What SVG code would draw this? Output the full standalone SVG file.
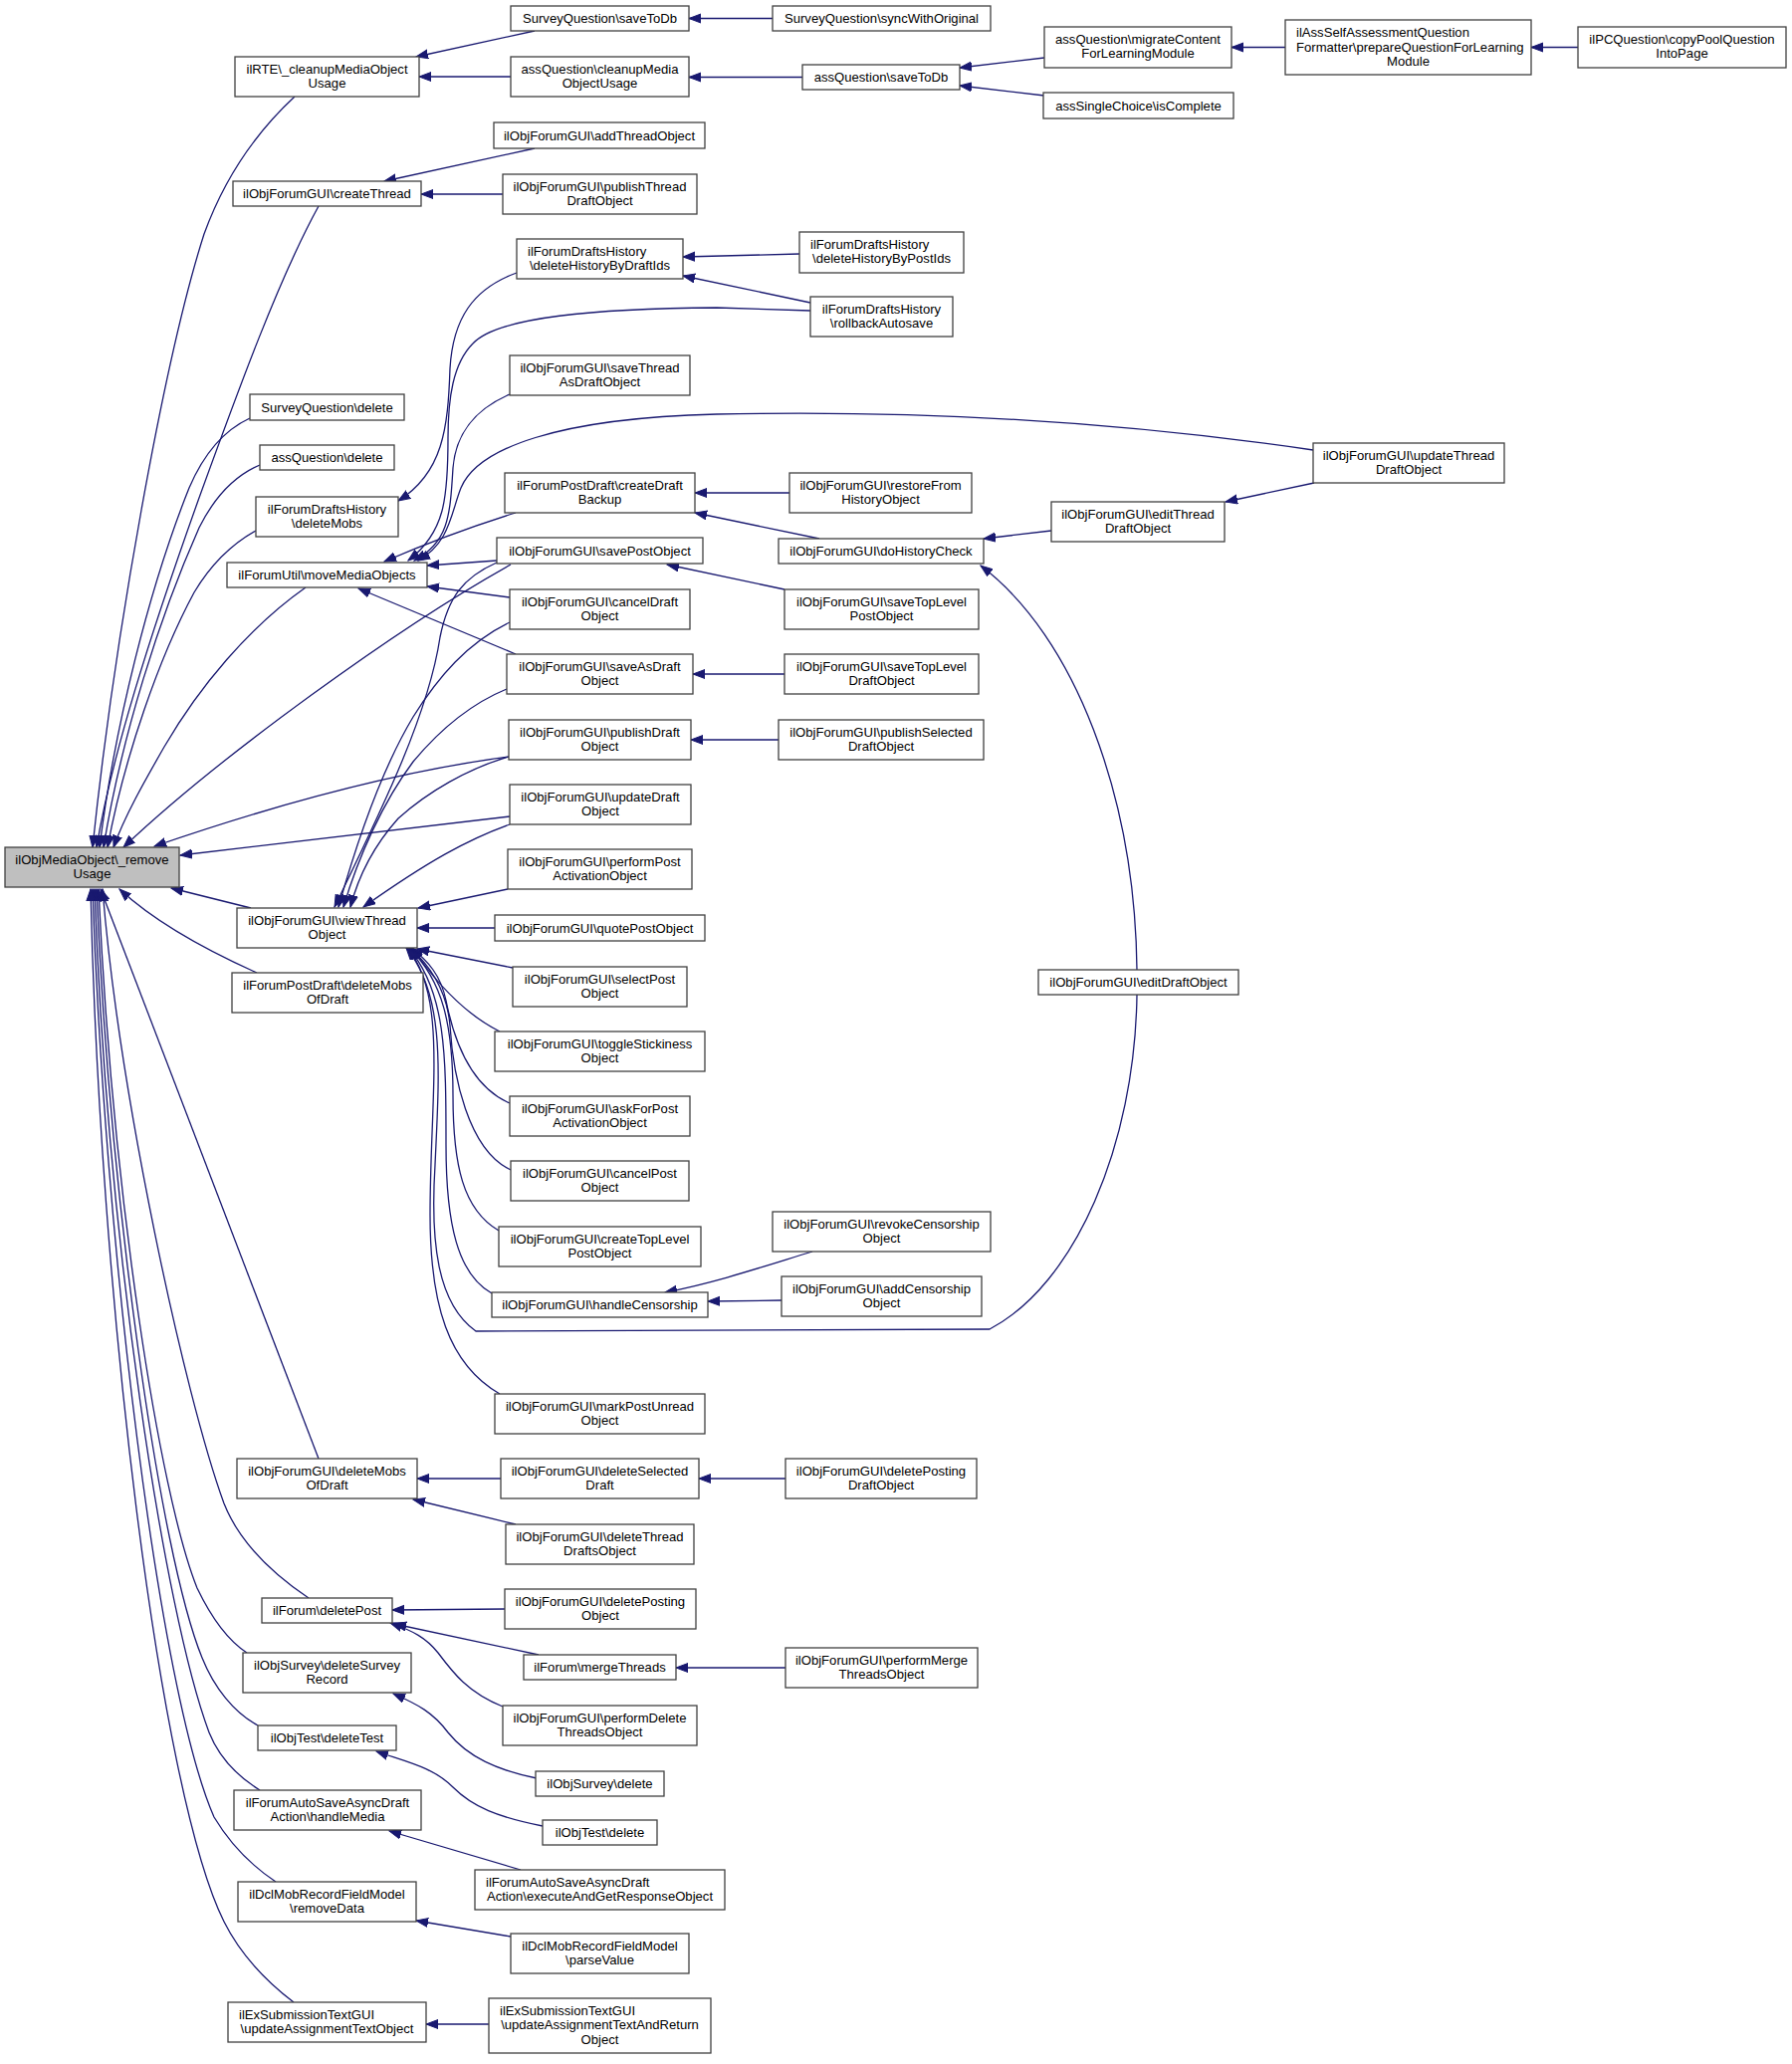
<svg xmlns="http://www.w3.org/2000/svg" width="1800" height="2073" viewBox="0 0 1800 2073">
<style>
.n rect{fill:#ffffff;stroke:#404040;stroke-width:1.3}
.m rect{fill:#bfbfbf;stroke:#404040;stroke-width:1.3}
text{font-family:"Liberation Sans",Arial,Helvetica,sans-serif;font-size:13.1px;fill:#000;text-anchor:middle}
text.l{text-anchor:start}
.e path{fill:none;stroke:#191970;stroke-width:1.3;marker-end:url(#ah)}
</style>
<defs>
<marker id="ah" markerUnits="userSpaceOnUse" markerWidth="14" markerHeight="12" refX="12" refY="5" orient="auto">
<path d="M0,0.5 L12,5 L0,9.5 z" fill="#191970" stroke="#191970" stroke-width="1"/>
</marker>
</defs>
<rect x="0" y="0" width="1800" height="2073" fill="#ffffff"/>
<g id="edges" class="e">
<path d="M296,97 C255,135 225,180 205,235 C165,360 115,640 93,851"/>
<path d="M320,207 C280,280 240,390 200,500 C150,640 112,760 97,851"/>
<path d="M251,420 C225,432 205,455 190,490 C150,590 115,730 100,851"/>
<path d="M261,467 C235,478 215,500 200,530 C160,620 122,740 104,851"/>
<path d="M257,533 C230,548 210,570 195,595 C160,660 125,760 108,851"/>
<path d="M307,590 C250,630 200,690 165,750 C145,785 125,820 114,851"/>
<path d="M513,567 C400,630 220,760 124,851"/>
<path d="M511,760 C420,772 300,800 155,850"/>
<path d="M512,820 L181,859"/>
<path d="M252,912 L172,892"/>
<path d="M258,977 C220,960 160,930 120,893"/>
<path d="M320,1465 L101,893"/>
<path d="M310,1605 C270,1578 240,1548 225,1510 C185,1400 120,1100 103,893"/>
<path d="M248,1660 C225,1645 210,1620 198,1595 C160,1500 113,1200 99,893"/>
<path d="M259,1733 C235,1720 215,1695 203,1665 C160,1560 110,1200 97,893"/>
<path d="M261,1798 C240,1785 220,1765 210,1740 C165,1620 108,1250 95,893"/>
<path d="M277,1890 C250,1872 230,1850 215,1825 C160,1700 105,1250 93,893"/>
<path d="M295,2011 C265,1988 240,1960 225,1930 C160,1800 100,1300 91,893"/>
<path d="M537,31 L418,57"/>
<path d="M513,77 L421,77"/>
<path d="M776,18.5 L692,18.5"/>
<path d="M806,77.5 L692,77.5"/>
<path d="M1049,58 L964,68"/>
<path d="M1049,96 L964,86"/>
<path d="M1291,47.5 L1237,47.5"/>
<path d="M1585,47.5 L1538,47.5"/>
<path d="M537,149 L386,182"/>
<path d="M505,195 L423,195"/>
<path d="M803,255 L686,258"/>
<path d="M814,304 L686,277"/>
<path d="M519,274 C475,290 455,320 452,370 C450,430 445,475 400,503"/>
<path d="M814,312 L720,309 C600,310 500,318 475,345 C455,365 450,400 450,440 C450,500 447,535 410,563"/>
<path d="M512,396 C480,410 458,432 455,470 C452,520 450,545 416,563"/>
<path d="M1319,452 C1100,420 900,412 720,416 C560,420 480,450 463,490 C453,515 452,545 420,563"/>
<path d="M518,515 C470,530 430,545 386,564"/>
<path d="M499,563 L429,568"/>
<path d="M512,600 L429,589"/>
<path d="M518,657 L360,591"/>
<path d="M793,495 L698,495"/>
<path d="M823,541 L698,515"/>
<path d="M1056,533 L988,541"/>
<path d="M1320,485 L1231,504"/>
<path d="M1142,974 C1140,800 1080,640 985,568"/>
<path d="M788,592 L670,567"/>
<path d="M788,677 L696,677"/>
<path d="M782,743 L694,743"/>
<path d="M499,565 C465,580 450,600 442,640 C430,720 380,820 336,911"/>
<path d="M512,625 C470,645 440,680 415,720 C385,770 360,840 340,911"/>
<path d="M509,692 C470,708 440,735 415,765 C385,805 360,860 345,911"/>
<path d="M511,760 C470,772 430,795 400,822 C375,850 360,880 352,911"/>
<path d="M512,828 C470,843 430,865 365,911"/>
<path d="M510,893 L420,912"/>
<path d="M497,932 L419,932"/>
<path d="M515,972 L419,953"/>
<path d="M502,1036 C470,1020 440,990 414,952"/>
<path d="M512,1108 C470,1090 455,1040 448,1005 C443,980 430,965 413,952"/>
<path d="M513,1175 C470,1155 455,1080 452,1030 C449,995 432,970 412,952"/>
<path d="M501,1236 C465,1215 455,1170 455,1100 C455,1030 445,985 411,952"/>
<path d="M494,1299 C460,1280 448,1230 448,1150 C448,1060 448,995 410,952"/>
<path d="M502,1400 C450,1370 432,1310 432,1220 C432,1100 450,1000 409,952"/>
<path d="M1142,999 C1140,1150 1080,1290 994,1335 L478,1337 C440,1310 432,1250 437,1170 C441,1080 448,1000 408,952"/>
<path d="M816,1257 C770,1271 720,1288 668,1298"/>
<path d="M785,1306 L711,1307"/>
<path d="M503,1485 L419,1485"/>
<path d="M518,1531 L415,1506"/>
<path d="M789,1485 L702,1485"/>
<path d="M507,1616 L394,1617"/>
<path d="M541,1662 L396,1631"/>
<path d="M505,1714 C470,1700 455,1680 440,1660 C428,1645 415,1638 392,1630"/>
<path d="M789,1675 L679,1675"/>
<path d="M539,1786 C500,1778 470,1765 450,1740 C435,1720 420,1712 395,1701"/>
<path d="M545,1834 C500,1825 475,1815 455,1795 C435,1775 410,1770 378,1759"/>
<path d="M523,1878 L391,1839"/>
<path d="M513,1945 L418,1929"/>
<path d="M491,2033 L428,2033"/>
</g>
<g id="n0" class="m"><rect x="5" y="851" width="175" height="40"/><text x="92.5" y="867.5">ilObjMediaObject\_remove</text><text x="92.5" y="881.9">Usage</text></g>
<g id="b1" class="n"><rect x="236" y="57" width="185" height="40"/><text x="328.5" y="73.5">ilRTE\_cleanupMediaObject</text><text x="328.5" y="87.9">Usage</text></g>
<g id="b2" class="n"><rect x="234" y="182" width="189" height="25"/><text x="328.5" y="199.2">ilObjForumGUI\createThread</text></g>
<g id="b3" class="n"><rect x="251" y="396" width="155" height="26"/><text x="328.5" y="413.7">SurveyQuestion\delete</text></g>
<g id="b4" class="n"><rect x="261" y="447" width="135" height="25"/><text x="328.5" y="464.2">assQuestion\delete</text></g>
<g id="b5" class="n"><rect x="257" y="499" width="143" height="40"/><text x="328.5" y="515.5">ilForumDraftsHistory</text><text x="328.5" y="529.9">\deleteMobs</text></g>
<g id="b6" class="n"><rect x="228" y="565" width="201" height="25"/><text x="328.5" y="582.2">ilForumUtil\moveMediaObjects</text></g>
<g id="b7" class="n"><rect x="238" y="912" width="181" height="40"/><text x="328.5" y="928.5">ilObjForumGUI\viewThread</text><text x="328.5" y="942.9">Object</text></g>
<g id="b8" class="n"><rect x="233" y="977" width="192" height="40"/><text x="329" y="993.5">ilForumPostDraft\deleteMobs</text><text x="329" y="1007.9">OfDraft</text></g>
<g id="b9" class="n"><rect x="238" y="1465" width="181" height="40"/><text x="328.5" y="1481.5">ilObjForumGUI\deleteMobs</text><text x="328.5" y="1495.9">OfDraft</text></g>
<g id="b10" class="n"><rect x="263" y="1605" width="131" height="25"/><text x="328.5" y="1622.2">ilForum\deletePost</text></g>
<g id="b11" class="n"><rect x="244" y="1660" width="169" height="40"/><text x="328.5" y="1676.5">ilObjSurvey\deleteSurvey</text><text x="328.5" y="1690.9">Record</text></g>
<g id="b12" class="n"><rect x="259" y="1733" width="139" height="25"/><text x="328.5" y="1750.2">ilObjTest\deleteTest</text></g>
<g id="b13" class="n"><rect x="235" y="1798" width="188" height="40"/><text x="329" y="1814.5">ilForumAutoSaveAsyncDraft</text><text x="329" y="1828.9">Action\handleMedia</text></g>
<g id="b14" class="n"><rect x="239" y="1890" width="179" height="40"/><text x="328.5" y="1906.5">ilDclMobRecordFieldModel</text><text x="328.5" y="1920.9">\removeData</text></g>
<g id="b15" class="n"><rect x="229" y="2011" width="199" height="40"/><text class="l" x="240" y="2027.5">ilExSubmissionTextGUI</text><text x="328.5" y="2041.9">\updateAssignmentTextObject</text></g>
<g id="c1" class="n"><rect x="513" y="6" width="179" height="25"/><text x="602.5" y="23.2">SurveyQuestion\saveToDb</text></g>
<g id="c2" class="n"><rect x="513" y="57" width="179" height="40"/><text x="602.5" y="73.5">assQuestion\cleanupMedia</text><text x="602.5" y="87.9">ObjectUsage</text></g>
<g id="c3" class="n"><rect x="496" y="123" width="212" height="26"/><text x="602" y="140.7">ilObjForumGUI\addThreadObject</text></g>
<g id="c4" class="n"><rect x="505" y="175" width="195" height="40"/><text x="602.5" y="191.5">ilObjForumGUI\publishThread</text><text x="602.5" y="205.9">DraftObject</text></g>
<g id="c5" class="n"><rect x="519" y="240" width="167" height="40"/><text class="l" x="530" y="256.5">ilForumDraftsHistory</text><text x="602.5" y="270.9">\deleteHistoryByDraftIds</text></g>
<g id="c6" class="n"><rect x="512" y="357" width="181" height="40"/><text x="602.5" y="373.5">ilObjForumGUI\saveThread</text><text x="602.5" y="387.9">AsDraftObject</text></g>
<g id="c7" class="n"><rect x="507" y="475" width="191" height="40"/><text x="602.5" y="491.5">ilForumPostDraft\createDraft</text><text x="602.5" y="505.9">Backup</text></g>
<g id="c8" class="n"><rect x="499" y="540" width="207" height="26"/><text x="602.5" y="557.7">ilObjForumGUI\savePostObject</text></g>
<g id="c9" class="n"><rect x="512" y="592" width="181" height="40"/><text x="602.5" y="608.5">ilObjForumGUI\cancelDraft</text><text x="602.5" y="622.9">Object</text></g>
<g id="c10" class="n"><rect x="509" y="657" width="187" height="40"/><text x="602.5" y="673.5">ilObjForumGUI\saveAsDraft</text><text x="602.5" y="687.9">Object</text></g>
<g id="c11" class="n"><rect x="511" y="723" width="183" height="40"/><text x="602.5" y="739.5">ilObjForumGUI\publishDraft</text><text x="602.5" y="753.9">Object</text></g>
<g id="c12" class="n"><rect x="512" y="788" width="182" height="40"/><text x="603" y="804.5">ilObjForumGUI\updateDraft</text><text x="603" y="818.9">Object</text></g>
<g id="c13" class="n"><rect x="510" y="853" width="185" height="40"/><text x="602.5" y="869.5">ilObjForumGUI\performPost</text><text x="602.5" y="883.9">ActivationObject</text></g>
<g id="c14" class="n"><rect x="497" y="919" width="211" height="26"/><text x="602.5" y="936.7">ilObjForumGUI\quotePostObject</text></g>
<g id="c15" class="n"><rect x="515" y="971" width="175" height="40"/><text x="602.5" y="987.5">ilObjForumGUI\selectPost</text><text x="602.5" y="1001.9">Object</text></g>
<g id="c16" class="n"><rect x="497" y="1036" width="211" height="40"/><text x="602.5" y="1052.5">ilObjForumGUI\toggleStickiness</text><text x="602.5" y="1066.9">Object</text></g>
<g id="c17" class="n"><rect x="512" y="1101" width="181" height="40"/><text x="602.5" y="1117.5">ilObjForumGUI\askForPost</text><text x="602.5" y="1131.9">ActivationObject</text></g>
<g id="c18" class="n"><rect x="513" y="1166" width="179" height="40"/><text x="602.5" y="1182.5">ilObjForumGUI\cancelPost</text><text x="602.5" y="1196.9">Object</text></g>
<g id="c19" class="n"><rect x="501" y="1232" width="203" height="40"/><text x="602.5" y="1248.5">ilObjForumGUI\createTopLevel</text><text x="602.5" y="1262.9">PostObject</text></g>
<g id="c20" class="n"><rect x="494" y="1298" width="217" height="25"/><text x="602.5" y="1315.2">ilObjForumGUI\handleCensorship</text></g>
<g id="c21" class="n"><rect x="497" y="1400" width="211" height="40"/><text x="602.5" y="1416.5">ilObjForumGUI\markPostUnread</text><text x="602.5" y="1430.9">Object</text></g>
<g id="c22" class="n"><rect x="503" y="1465" width="199" height="40"/><text x="602.5" y="1481.5">ilObjForumGUI\deleteSelected</text><text x="602.5" y="1495.9">Draft</text></g>
<g id="c23" class="n"><rect x="508" y="1531" width="189" height="40"/><text x="602.5" y="1547.5">ilObjForumGUI\deleteThread</text><text x="602.5" y="1561.9">DraftsObject</text></g>
<g id="c24" class="n"><rect x="507" y="1596" width="192" height="40"/><text x="603" y="1612.5">ilObjForumGUI\deletePosting</text><text x="603" y="1626.9">Object</text></g>
<g id="c25" class="n"><rect x="526" y="1662" width="153" height="25"/><text x="602.5" y="1679.2">ilForum\mergeThreads</text></g>
<g id="c26" class="n"><rect x="505" y="1713" width="195" height="40"/><text x="602.5" y="1729.5">ilObjForumGUI\performDelete</text><text x="602.5" y="1743.9">ThreadsObject</text></g>
<g id="c27" class="n"><rect x="538" y="1779" width="129" height="25"/><text x="602.5" y="1796.2">ilObjSurvey\delete</text></g>
<g id="c28" class="n"><rect x="545" y="1828" width="115" height="25"/><text x="602.5" y="1845.2">ilObjTest\delete</text></g>
<g id="c29" class="n"><rect x="477" y="1878" width="251" height="40"/><text class="l" x="488" y="1894.5">ilForumAutoSaveAsyncDraft</text><text x="602.5" y="1908.9">Action\executeAndGetResponseObject</text></g>
<g id="c30" class="n"><rect x="513" y="1942" width="179" height="40"/><text x="602.5" y="1958.5">ilDclMobRecordFieldModel</text><text x="602.5" y="1972.9">\parseValue</text></g>
<g id="c31" class="n"><rect x="491" y="2007" width="223" height="55"/><text class="l" x="502" y="2023.9">ilExSubmissionTextGUI</text><text x="602.5" y="2038.3">\updateAssignmentTextAndReturn</text><text x="602.5" y="2052.7">Object</text></g>
<g id="d1" class="n"><rect x="776" y="6" width="219" height="25"/><text x="885.5" y="23.2">SurveyQuestion\syncWithOriginal</text></g>
<g id="d2" class="n"><rect x="806" y="65" width="158" height="25"/><text x="885" y="82.2">assQuestion\saveToDb</text></g>
<g id="d3" class="n"><rect x="803" y="233" width="165" height="41"/><text class="l" x="814" y="250">ilForumDraftsHistory</text><text x="885.5" y="264.4">\deleteHistoryByPostIds</text></g>
<g id="d4" class="n"><rect x="814" y="298" width="143" height="40"/><text x="885.5" y="314.5">ilForumDraftsHistory</text><text x="885.5" y="328.9">\rollbackAutosave</text></g>
<g id="d5" class="n"><rect x="793" y="475" width="183" height="40"/><text x="884.5" y="491.5">ilObjForumGUI\restoreFrom</text><text x="884.5" y="505.9">HistoryObject</text></g>
<g id="d6" class="n"><rect x="782" y="541" width="206" height="25"/><text x="885" y="558.2">ilObjForumGUI\doHistoryCheck</text></g>
<g id="d7" class="n"><rect x="788" y="592" width="195" height="40"/><text x="885.5" y="608.5">ilObjForumGUI\saveTopLevel</text><text x="885.5" y="622.9">PostObject</text></g>
<g id="d8" class="n"><rect x="788" y="657" width="195" height="40"/><text x="885.5" y="673.5">ilObjForumGUI\saveTopLevel</text><text x="885.5" y="687.9">DraftObject</text></g>
<g id="d9" class="n"><rect x="782" y="723" width="206" height="40"/><text x="885" y="739.5">ilObjForumGUI\publishSelected</text><text x="885" y="753.9">DraftObject</text></g>
<g id="d10" class="n"><rect x="776" y="1217" width="219" height="40"/><text x="885.5" y="1233.5">ilObjForumGUI\revokeCensorship</text><text x="885.5" y="1247.9">Object</text></g>
<g id="d11" class="n"><rect x="785" y="1282" width="201" height="40"/><text x="885.5" y="1298.5">ilObjForumGUI\addCensorship</text><text x="885.5" y="1312.9">Object</text></g>
<g id="d12" class="n"><rect x="789" y="1465" width="192" height="40"/><text x="885" y="1481.5">ilObjForumGUI\deletePosting</text><text x="885" y="1495.9">DraftObject</text></g>
<g id="d13" class="n"><rect x="789" y="1655" width="193" height="40"/><text x="885.5" y="1671.5">ilObjForumGUI\performMerge</text><text x="885.5" y="1685.9">ThreadsObject</text></g>
<g id="e1" class="n"><rect x="1049" y="27" width="188" height="41"/><text x="1143" y="44">assQuestion\migrateContent</text><text x="1143" y="58.4">ForLearningModule</text></g>
<g id="e2" class="n"><rect x="1048" y="93" width="191" height="26"/><text x="1143.5" y="110.7">assSingleChoice\isComplete</text></g>
<g id="e3" class="n"><rect x="1056" y="504" width="174" height="40"/><text x="1143" y="520.5">ilObjForumGUI\editThread</text><text x="1143" y="534.9">DraftObject</text></g>
<g id="e4" class="n"><rect x="1043" y="974" width="201" height="25"/><text x="1143.5" y="991.2">ilObjForumGUI\editDraftObject</text></g>
<g id="f1" class="n"><rect x="1291" y="20" width="247" height="55"/><text class="l" x="1302" y="37.1">ilAssSelfAssessmentQuestion</text><text class="l" x="1302" y="51.5">Formatter\prepareQuestionForLearning</text><text x="1414.5" y="65.9">Module</text></g>
<g id="f2" class="n"><rect x="1319" y="445" width="192" height="40"/><text x="1415" y="461.5">ilObjForumGUI\updateThread</text><text x="1415" y="475.9">DraftObject</text></g>
<g id="g1" class="n"><rect x="1585" y="27" width="209" height="41"/><text x="1689.5" y="44">ilPCQuestion\copyPoolQuestion</text><text x="1689.5" y="58.4">IntoPage</text></g>
</svg>
